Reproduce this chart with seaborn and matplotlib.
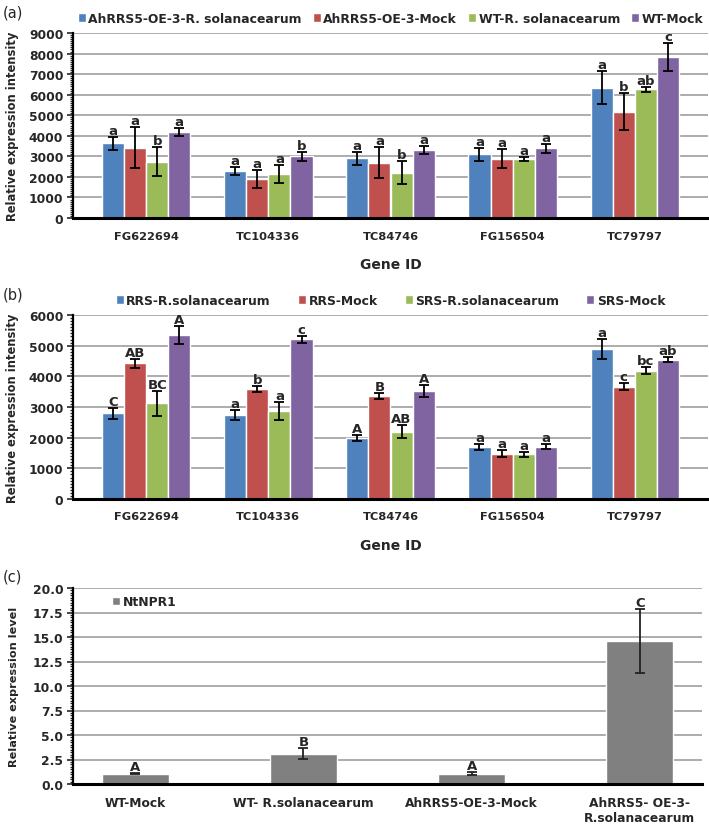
import matplotlib
matplotlib.use("Agg")
import pandas as pd
import matplotlib.pyplot as plt
import seaborn as sns
from matplotlib.ticker import MultipleLocator, AutoMinorLocator, FormatStrFormatter

# ------------------------------------------------------------------ data
genes = ["FG622694", "TC104336", "TC84746", "FG156504", "TC79797"]

# (a) transgenic vs wild type
a_groups = ["AhRRS5-OE-3-R. solanacearum", "AhRRS5-OE-3-Mock", "WT-R. solanacearum", "WT-Mock"]
a_values = [
    [3640, 2290, 2910, 3100, 6340],
    [3410, 1890, 2690, 2890, 5160],
    [2740, 2140, 2210, 2870, 6260],
    [4180, 3000, 3320, 3400, 7840],
]
a_errors = [
    [320, 180, 320, 310, 800],
    [1000, 450, 750, 480, 900],
    [690, 450, 580, 120, 120],
    [200, 220, 190, 215, 670],
]
a_letters = [
    ["a", "a", "a", "a", "a"],
    ["a", "a", "a", "a", "b"],
    ["b", "a", "b", "a", "ab"],
    ["a", "b", "a", "a", "c"],
]

# (b) resistant vs susceptible
b_groups = ["RRS-R.solanacearum", "RRS-Mock", "SRS-R.solanacearum", "SRS-Mock"]
b_values = [
    [2790, 2740, 2000, 1700, 4890],
    [4430, 3590, 3350, 1480, 3660],
    [3120, 2870, 2200, 1460, 4180],
    [5360, 5210, 3520, 1710, 4540],
]
b_errors = [
    [170, 170, 100, 95, 320],
    [150, 110, 100, 110, 115],
    [415, 300, 220, 80, 120],
    [290, 120, 190, 75, 80],
]
b_letters = [
    ["C", "a", "A", "a", "a"],
    ["AB", "b", "B", "a", "c"],
    ["BC", "a", "AB", "a", "bc"],
    ["A", "c", "A", "a", "ab"],
]

# (c) NtNPR1
c_samples = ["WT-Mock", "WT- R.solanacearum", "AhRRS5-OE-3-Mock", "AhRRS5- OE-3-\nR.solanacearum"]
c_values = [1.05, 3.1, 1.05, 14.56]
c_errors = [0.05, 0.55, 0.15, 3.25]
c_letters = ["A", "B", "A", "C"]

colors = ["#4F81BD", "#C0504D", "#9BBB59", "#8064A2"]

sns.set_style("white")
plt.rcParams['font.family'] = ['DejaVu Sans']

fig = plt.figure(figsize=(7.09, 8.28), dpi=100)
W, H = 709, 828


def add_axes(left, right, top, bottom):
    return fig.add_axes([left / W, 1 - bottom / H, (right - left) / W, (bottom - top) / H])


def style_axis(ax, step, top, fmt):
    ax.set_ylim(0, top)
    ax.yaxis.set_major_locator(MultipleLocator(step))
    ax.yaxis.set_minor_locator(AutoMinorLocator(10))
    ax.yaxis.set_major_formatter(FormatStrFormatter(fmt))
    ax.grid(axis="y", color="#A6A6A6", linewidth=1.3)
    ax.set_axisbelow(True)
    for s in ["top", "right"]:
        ax.spines[s].set_visible(False)
    ax.spines["left"].set_linewidth(1.6)
    ax.spines["bottom"].set_linewidth(2.2)
    ax.spines["left"].set_color("black")
    ax.spines["bottom"].set_color("black")
    ax.tick_params(axis="y", which="major", direction="out", length=4, width=1.2, pad=3,
                   labelsize=8.8, left=True)
    ax.tick_params(axis="y", which="minor", direction="out", length=2.5, width=0.9, left=True)
    ax.tick_params(axis="x", length=0, pad=9)
    for t in ax.get_yticklabels():
        t.set_fontweight("bold")


def grouped_panel(ax, groups, values, errors, letters, step, top, ylabel, legend_kw):
    rows = []
    for g, vals in zip(groups, values):
        for gene, v in zip(genes, vals):
            rows.append({"gene": gene, "group": g, "value": v})
    df = pd.DataFrame(rows)
    sns.barplot(data=df, x="gene", y="value", hue="group", palette=colors, errorbar=None,
                width=0.725, saturation=1, ax=ax)
    for cont, err, lab in zip(ax.containers, errors, letters):
        xs = [b.get_x() + b.get_width() / 2 for b in cont]
        hs = [b.get_height() for b in cont]
        ax.errorbar(xs, hs, yerr=err, fmt="none", ecolor="black", elinewidth=1.3,
                    capsize=3.5, capthick=1.3)
        for x, h, e, t in zip(xs, hs, err, lab):
            ax.annotate(t, (x, h + e), xytext=(0, 0), textcoords="offset points",
                        ha="center", va="bottom", fontsize=9.5, fontweight="bold")
    style_axis(ax, step, top, "%d")
    ax.set_xlabel("Gene ID", fontsize=10, fontweight="bold", labelpad=12)
    ax.set_ylabel(ylabel, fontsize=8.3, fontweight="bold")
    ax.yaxis.set_label_coords(-0.085, 0.5)
    for t in ax.get_xticklabels():
        t.set_fontweight("bold")
        t.set_fontsize(8.2)
    h, l = ax.get_legend_handles_labels()
    ax.legend(h, l, loc="lower center", bbox_to_anchor=(0.5, 1.0), ncol=4, frameon=False,
              prop=dict(weight="bold", size=8.9), handlelength=0.65, handleheight=0.65,
              handletextpad=0.2, borderaxespad=0.25, **legend_kw)


# ------------------------------------------------------------------ (a)
ax1 = add_axes(73, 708, 34, 219)
grouped_panel(ax1, a_groups, a_values, a_errors, a_letters, 1000, 9000,
              "Relative expression intensity", dict(columnspacing=0.9))

# ------------------------------------------------------------------ (b)
ax2 = add_axes(73, 708, 316, 500)
grouped_panel(ax2, b_groups, b_values, b_errors, b_letters, 1000, 6000,
              "Relative expression intensity", dict(columnspacing=2.2))

# ------------------------------------------------------------------ (c)
ax3 = add_axes(73, 702, 589, 785)
dfc = pd.DataFrame({"sample": c_samples, "value": c_values, "gene": "NtNPR1"})
sns.barplot(data=dfc, x="sample", y="value", hue="gene", palette=["#808080"], errorbar=None,
            width=0.4, saturation=1, ax=ax3)
bars = ax3.containers[0]
xs = [b.get_x() + b.get_width() / 2 for b in bars]
ax3.errorbar(xs, c_values, yerr=c_errors, fmt="none", ecolor="#222222", elinewidth=1.3,
             capsize=3.5, capthick=1.3)
for x, h, e, t in zip(xs, c_values, c_errors, c_letters):
    ax3.annotate(t, (x, h + e), xytext=(0, 0), textcoords="offset points",
                 ha="center", va="bottom", fontsize=9.5, fontweight="bold")
style_axis(ax3, 2.5, 20, "%.1f")
ax3.set_xlabel("")
ax3.set_ylabel("Relative expression level", fontsize=8.1, fontweight="bold")
ax3.yaxis.set_label_coords(-0.086, 0.5)
for t in ax3.get_xticklabels():
    t.set_fontweight("bold")
    t.set_fontsize(8.8)
h, l = ax3.get_legend_handles_labels()
ax3.legend(h, l, loc="center left", bbox_to_anchor=(0.045, 0.93), frameon=False,
           prop=dict(weight="bold", size=8.9), handlelength=0.65, handleheight=0.65,
           handletextpad=0.2)

# panel letters
for txt, y in [("(a)", 13), ("(b)", 295), ("(c)", 577)]:
    fig.text(3 / W, 1 - y / H, txt, fontsize=10.5, va="center", ha="left")

fig.savefig("out.png", dpi=100)
